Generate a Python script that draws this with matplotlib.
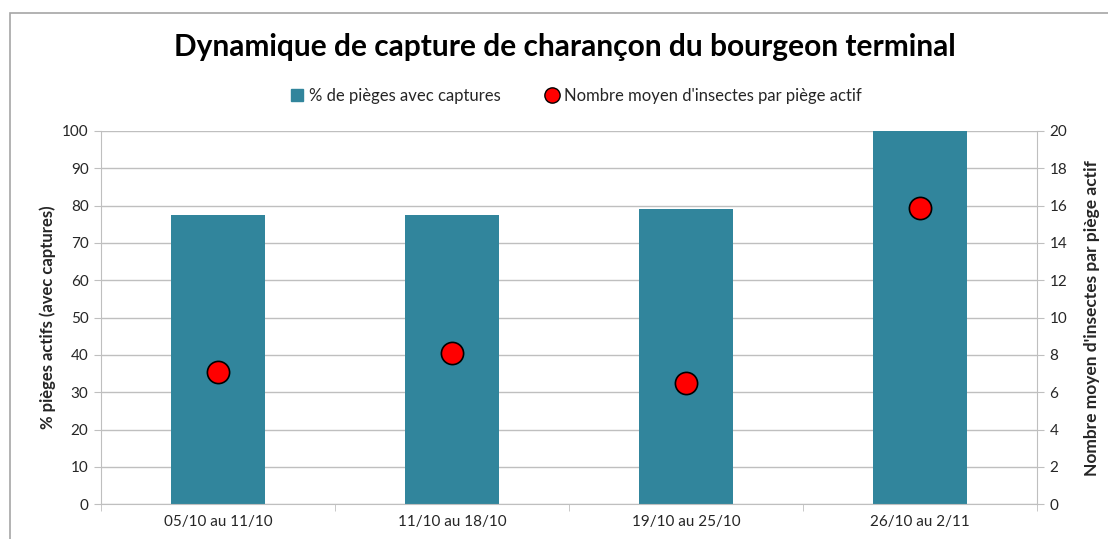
import matplotlib.pyplot as plt
import matplotlib.patches as mpatches
from matplotlib.lines import Line2D
import numpy as np

# Données
periodes = ['05/10 au 11/10', '11/10 au 18/10', '19/10 au 25/10', '26/10 au 2/11']
pct_pieges = [77.5, 77.5, 79.0, 100.0]
nb_moyen = [7.1, 8.1, 6.5, 15.9]

couleur_barre = '#31859C'
couleur_grille = '#BFBFBF'
police = ['Lato', 'DejaVu Sans']
plt.rcParams['font.family'] = police

fig = plt.figure(figsize=(11.08, 5.39), dpi=100)

# Cadre extérieur (coupé à droite et en bas)
cadre = mpatches.Rectangle((10 / 1108, -0.1), 1.2, 1.1 - 13 / 539,
                           transform=fig.transFigure, fill=False,
                           edgecolor='#A6A6A6', linewidth=1.2)
fig.patches.append(cadre)

ax = fig.add_axes([101 / 1108, 1 - 504.3 / 539, (1037 - 101) / 1108, (504.3 - 131) / 539])
x = np.arange(len(periodes))
ax.bar(x, pct_pieges, width=0.40, color=couleur_barre, zorder=2)
ax.set_xlim(-0.5, len(periodes) - 0.5)
ax.set_ylim(0, 100)
ax.set_yticks(range(0, 101, 10))
ax.yaxis.grid(True, color=couleur_grille, linewidth=1.0, zorder=0)
ax.set_axisbelow(True)

ax.set_xticks(x)
ax.set_xticklabels(periodes, fontsize=11, color='#262626')
ax.set_xticks(np.arange(-0.5, len(periodes)), minor=True)
ax.tick_params(axis='x', which='major', length=0, pad=8)
ax.tick_params(axis='x', which='minor', length=5, color=couleur_grille)
ax.tick_params(axis='y', length=5, color=couleur_grille, labelsize=11,
               labelcolor='#262626', pad=4)
for cote in ['top', 'right']:
    ax.spines[cote].set_visible(False)
ax.spines['left'].set_color(couleur_grille)
ax.spines['bottom'].set_color(couleur_grille)
ax.set_ylabel('% pièges actifs (avec captures)', fontsize=12, fontweight='bold',
              color='#262626', labelpad=4)

ax2 = ax.twinx()
ax2.scatter(x, nb_moyen, s=16 ** 2, color='#FF0000', edgecolor='black',
            linewidth=1.2, zorder=4)
ax2.set_ylim(0, 20)
ax2.set_yticks(range(0, 21, 2))
ax2.tick_params(axis='y', length=5, color=couleur_grille, labelsize=11,
                labelcolor='#262626', pad=4)
for cote in ['top', 'left', 'bottom']:
    ax2.spines[cote].set_visible(False)
ax2.spines['right'].set_color(couleur_grille)
ax2.set_ylabel("Nombre moyen d'insectes par piège actif", fontsize=12.5,
               fontweight='bold', color='#262626', labelpad=12)

fig.text(565 / 1108, 1 - 47 / 539, 'Dynamique de capture de charançon du bourgeon terminal',
         ha='center', va='center', fontsize=21.5, fontweight='bold', color='#000000')

poignees = [
    Line2D([], [], marker='s', linestyle='none', markersize=8,
           markerfacecolor=couleur_barre, markeredgecolor=couleur_barre),
    Line2D([], [], marker='o', linestyle='none', markersize=11,
           markerfacecolor='#FF0000', markeredgecolor='black'),
]
fig.legend(poignees, ['% de pièges avec captures', "Nombre moyen d'insectes par piège actif"],
           loc='center', bbox_to_anchor=(0.519, 1 - 96 / 539), ncol=2, frameon=False,
           fontsize=12, handlelength=1.0, handletextpad=0.2, columnspacing=2.6,
           labelcolor='#262626')

fig.savefig('out.png', dpi=100)
